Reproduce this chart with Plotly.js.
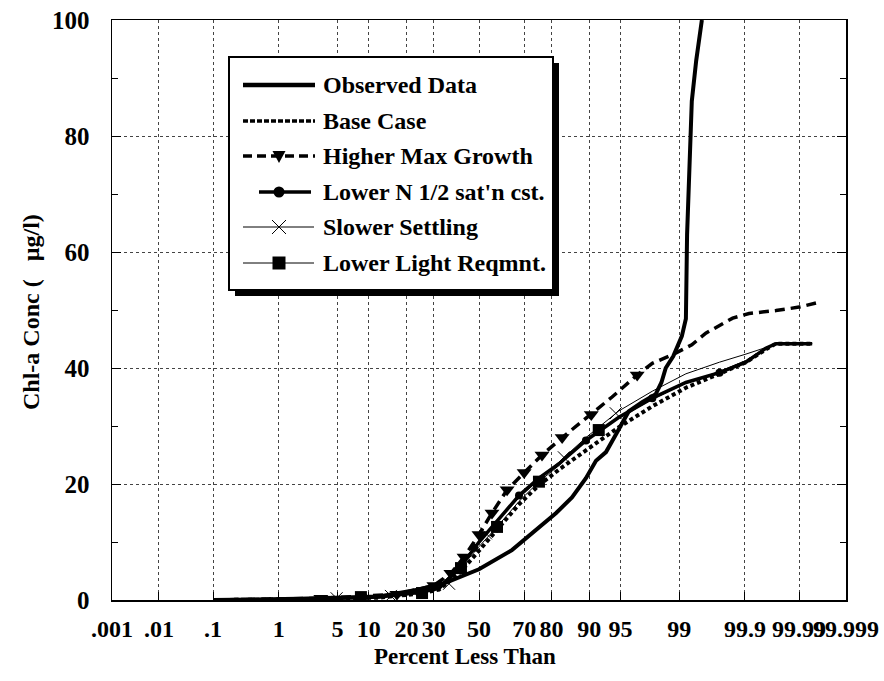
<!DOCTYPE html>
<html><head><meta charset="utf-8">
<script src="https://cdn.plot.ly/plotly-3.0.1.min.js"></script>
<style>html,body{margin:0;padding:0;background:#fff}</style>
</head><body><div id="chart" style="width:884px;height:681px"></div>
<script>
// ---- data (x = percent less than, y = Chl-a µg/l) ----
const tickPct = [0.001,0.01,0.1,1,5,10,20,30,50,70,80,90,95,99,99.9,99.99,99.999];
const tickLabels = ['.001','.01','.1','1','5','10','20','30','50','70','80','90','95','99','99.9','99.99','99.999'];

const obsPct = [0.1,1.82,12.3,24.3,35.1,50,64.9,75.7,81.5,86.0,89.3,91.3,93.0,94.4,95.9,97.1,98.0,98.3,98.5,98.8,99.08,99.19,99.22,99.33,99.42,99.52];
const obsVal = [0,0.2,0.6,1.8,3.0,5.3,8.6,12.5,15.0,17.7,21.0,24.0,25.5,28.5,32.5,34.1,35.5,37.5,40.0,42.0,45.5,48.5,63,86,93,100];

const highPct = [0.1,3.3,17.0,30.0,37.2,43.1,50,56.0,62.8,70.0,76.8,83.3,90.4,93.9,96.7,97.8,98.9,99.33,99.58,99.84,99.915,99.972,99.990,99.9955];
const highVal = [0,0.3,1.0,2.5,4.6,7.4,11.3,15.0,19.0,22.0,25.0,28.0,32.0,35.0,38.8,40.8,42.6,44.0,46.0,48.6,49.4,49.9,50.5,51.2];
const highMarkPct = [3.3,17.0,30.0,37.2,43.1,50,56.0,62.8,70.0,76.8,83.3,90.4,96.7];
const highMarkVal = [0.3,1.0,2.5,4.6,7.4,11.3,15.0,19.0,22.0,25.0,28.0,32.0,38.8];

const simPct = [0.1,1.82,12.3,24.3,32.1,40.8,50,59.2,67.9,75.7,82.4,89.3,94.8,97.8,99.19,99.74,99.904,99.957,99.972,99.9946];
const baseVal = [0,0.1,0.4,1.1,1.8,4.6,8.5,12.5,16.5,19.8,22.5,25.8,29.8,33.4,36.6,39.0,41.0,43.2,44.2,44.2];
const lowNVal = [0,0.1,0.5,1.3,2.0,5.4,10.0,14.0,18.0,21.0,23.5,27.5,31.5,34.8,37.5,39.2,41.0,43.4,44.2,44.2];
const slowVal = [0,0.1,0.6,1.5,2.4,5.8,10.2,14.0,17.6,20.8,23.8,28.0,32.6,36.0,39.0,41.0,42.4,43.6,44.1,44.2];
const lightVal = [0,0.1,0.6,1.2,2.4,5.2,9.2,13.0,17.0,20.4,23.2,27.7,31.4,34.6,37.4,39.4,41.3,43.5,44.2,44.2];

const lowNMarkPct = [24.3,47.7,67.9,89.3,97.8,99.74];
const lowNMarkVal = [1.3,9.0,18.0,27.5,34.8,39.2];
const slowMarkPct = [4.9,15.3,36.4,53.2,83.8,94.4];
const slowMarkVal = [0.3,0.7,2.8,11.5,24.6,32.2];
const lightMarkPct = [8.5,25.4,41.7,58.3,75.7,91.8];
const lightMarkVal = [0.5,1.2,5.5,12.6,20.4,29.3];

const seriesNames = ['Observed Data','Base Case','Higher Max Growth','Lower N 1/2 sat\'n cst.','Slower Settling','Lower Light Reqmnt.'];
const xTitle = 'Percent Less Than';
const yTitle = 'Chl-a Conc (   µg/l)';

// ---- normal probability scale ----
function probit(p){
  const a=[-3.969683028665376e+01,2.209460984245205e+02,-2.759285104469687e+02,1.383577518672690e+02,-3.066479806614716e+01,2.506628277459239e+00];
  const b=[-5.447609879822406e+01,1.615858368580409e+02,-1.556989798598866e+02,6.680131188771972e+01,-1.328068155288572e+01];
  const c=[-7.784894002430293e-03,-3.223964580411365e-01,-2.400758277161838e+00,-2.549732539343734e+00,4.374664141464968e+00,2.938163982698783e+00];
  const d=[7.784695709041462e-03,3.224671290700398e-01,2.445134137142996e+00,3.754408661907416e+00];
  const pl=0.02425, ph=1-pl; let q,r;
  if(p<pl){q=Math.sqrt(-2*Math.log(p));return (((((c[0]*q+c[1])*q+c[2])*q+c[3])*q+c[4])*q+c[5])/((((d[0]*q+d[1])*q+d[2])*q+d[3])*q+1);}
  if(p<=ph){q=p-0.5;r=q*q;return (((((a[0]*r+a[1])*r+a[2])*r+a[3])*r+a[4])*r+a[5])*q/(((((b[0]*r+b[1])*r+b[2])*r+b[3])*r+b[4])*r+1);}
  q=Math.sqrt(-2*Math.log(1-p));return -(((((c[0]*q+c[1])*q+c[2])*q+c[3])*q+c[4])*q+c[5])/((((d[0]*q+d[1])*q+d[2])*q+d[3])*q+1);
}
const Z = arr => arr.map(v => probit(v/100));

const FONT = '"Liberation Serif","Times New Roman",Times,serif';

function lineTrace(px, py, name, line){
  return {x:Z(px), y:py, name:name, mode:'lines', type:'scatter', line:line, showlegend:false, hoverinfo:'skip'};
}
function markTrace(px, py, name, marker){
  return {x:Z(px), y:py, name:name, mode:'markers', type:'scatter', marker:marker, showlegend:false, hoverinfo:'skip'};
}

const traces = [
  lineTrace(simPct, lightVal, seriesNames[5], {color:'#000', width:1}),
  markTrace(lightMarkPct, lightMarkVal, seriesNames[5], {symbol:'square', size:12, color:'#000'}),
  lineTrace(simPct, slowVal, seriesNames[4], {color:'#000', width:1}),
  markTrace(slowMarkPct, slowMarkVal, seriesNames[4], {symbol:'x-thin-open', size:12, color:'#000', line:{width:1, color:'#000'}}),
  lineTrace(simPct, baseVal, seriesNames[1], {color:'#000', width:4, dash:'4px,3px'}),
  lineTrace(simPct, lowNVal, seriesNames[3], {color:'#000', width:3.5}),
  markTrace(lowNMarkPct, lowNMarkVal, seriesNames[3], {symbol:'circle', size:8, color:'#000'}),
  lineTrace(highPct, highVal, seriesNames[2], {color:'#000', width:3.5, dash:'10px,6px'}),
  markTrace(highMarkPct, highMarkVal, seriesNames[2], {symbol:'triangle-down', size:13, color:'#000'}),
  lineTrace(obsPct, obsVal, seriesNames[0], {color:'#000', width:4})
];

// ---- custom legend (layout decoration in paper coords) ----
const L = 112, R = 846, T = 20, B = 600;
const PX = v => (v - L) / (R - L);
const PY = v => (B - v) / (B - T);
const shapes = [];
const annotations = [];
const box = {x0:229, x1:553, y0:57, y1:290};
shapes.push({type:'rect', xref:'paper', yref:'paper', layer:'above', x0:PX(box.x0+6), x1:PX(box.x1+6), y0:PY(box.y1+6), y1:PY(box.y0+6), fillcolor:'#000', line:{width:0}});
shapes.push({type:'rect', xref:'paper', yref:'paper', layer:'above', x0:PX(box.x0), x1:PX(box.x1), y0:PY(box.y1), y1:PY(box.y0), fillcolor:'#fff', line:{width:2, color:'#000'}});
const rowY = [85,121,156,192,227,263];
const sampleStyles = [
  {x0:243, x1:315, w:4.5, dash:'solid'},
  {x0:243, x1:315, w:3.5, dash:'5px,2px'},
  {x0:243, x1:315, w:3.5, dash:'9px,5px'},
  {x0:259, x1:311, w:3.5, dash:'solid'},
  {x0:243, x1:314, w:1, dash:'solid'},
  {x0:243, x1:314, w:1, dash:'solid'}
];
sampleStyles.forEach((s,i)=>{
  shapes.push({type:'line', xref:'paper', yref:'paper', layer:'above', x0:PX(s.x0), x1:PX(s.x1), y0:PY(rowY[i]), y1:PY(rowY[i]), line:{color:'#000', width:s.w, dash:s.dash}});
  annotations.push({xref:'paper', yref:'paper', x:PX(321), y:PY(rowY[i]), xanchor:'left', yanchor:'middle', showarrow:false, text:seriesNames[i], font:{family:FONT, size:24, color:'#000', weight:700}});
});
const mx = 279;
shapes.push({type:'path', xref:'paper', yref:'paper', layer:'above', path:`M${PX(mx-6.5)},${PY(rowY[2]-5)} L${PX(mx+6.5)},${PY(rowY[2]-5)} L${PX(mx)},${PY(rowY[2]+7)} Z`, fillcolor:'#000', line:{width:0}});
shapes.push({type:'circle', xref:'paper', yref:'paper', layer:'above', x0:PX(mx-5.5), x1:PX(mx+5.5), y0:PY(rowY[3]+5.5), y1:PY(rowY[3]-5.5), fillcolor:'#000', line:{width:0}});
shapes.push({type:'path', xref:'paper', yref:'paper', layer:'above', path:`M${PX(mx-7)},${PY(rowY[4]-7)} L${PX(mx+7)},${PY(rowY[4]+7)} M${PX(mx-7)},${PY(rowY[4]+7)} L${PX(mx+7)},${PY(rowY[4]-7)}`, line:{width:1, color:'#000'}});
shapes.push({type:'rect', xref:'paper', yref:'paper', layer:'above', x0:PX(mx-6.5), x1:PX(mx+6.5), y0:PY(rowY[5]+6.5), y1:PY(rowY[5]-6.5), fillcolor:'#000', line:{width:0}});

// axis titles
annotations.push({xref:'paper', yref:'paper', x:PX(465), y:PY(656), xanchor:'center', yanchor:'middle', showarrow:false, text:xTitle, font:{family:FONT, size:23, color:'#000', weight:700}});
annotations.push({xref:'paper', yref:'paper', x:PX(31), y:PY(312), xanchor:'center', yanchor:'middle', textangle:-90, showarrow:false, text:yTitle, font:{family:FONT, size:24, color:'#000', weight:700}});

const layout = {
  width:884, height:681,
  margin:{l:L, r:884-R, t:T, b:681-B},
  paper_bgcolor:'#fff', plot_bgcolor:'#fff',
  font:{family:FONT, size:20, color:'#000', weight:700},
  showlegend:false,
  xaxis:{
    range:[probit(tickPct[0]/100)-1e-6, probit(tickPct[tickPct.length-1]/100)+1e-6],
    tickmode:'array', tickvals:Z(tickPct), ticktext:tickLabels, tickangle:0,
    ticks:'inside', ticklen:8, tickcolor:'#000', tickwidth:1,
    showgrid:true, gridcolor:'#444', griddash:'3px,3px', gridwidth:1,
    showline:true, linecolor:'#000', linewidth:1.5, mirror:true,
    zeroline:false, ticklabelstandoff:7, ticklabeloverflow:'allow',
    tickfont:{family:FONT, size:24, color:'#000', weight:700}
  },
  yaxis:{
    range:[0,100], tickmode:'linear', tick0:0, dtick:20,
    ticks:'inside', ticklen:9, tickcolor:'#000',
    minor:{dtick:10, ticks:'inside', ticklen:6, tickcolor:'#000', showgrid:false},
    showgrid:true, gridcolor:'#444', griddash:'3px,3px', gridwidth:1,
    showline:true, linecolor:'#000', linewidth:1.5, mirror:'ticks',
    zeroline:false, ticklabelstandoff:16,
    tickfont:{family:FONT, size:25, color:'#000', weight:700}
  },
  shapes:shapes, annotations:annotations
};

Plotly.newPlot('chart', traces, layout, {displayModeBar:false, staticPlot:true});
</script>
</body></html>
